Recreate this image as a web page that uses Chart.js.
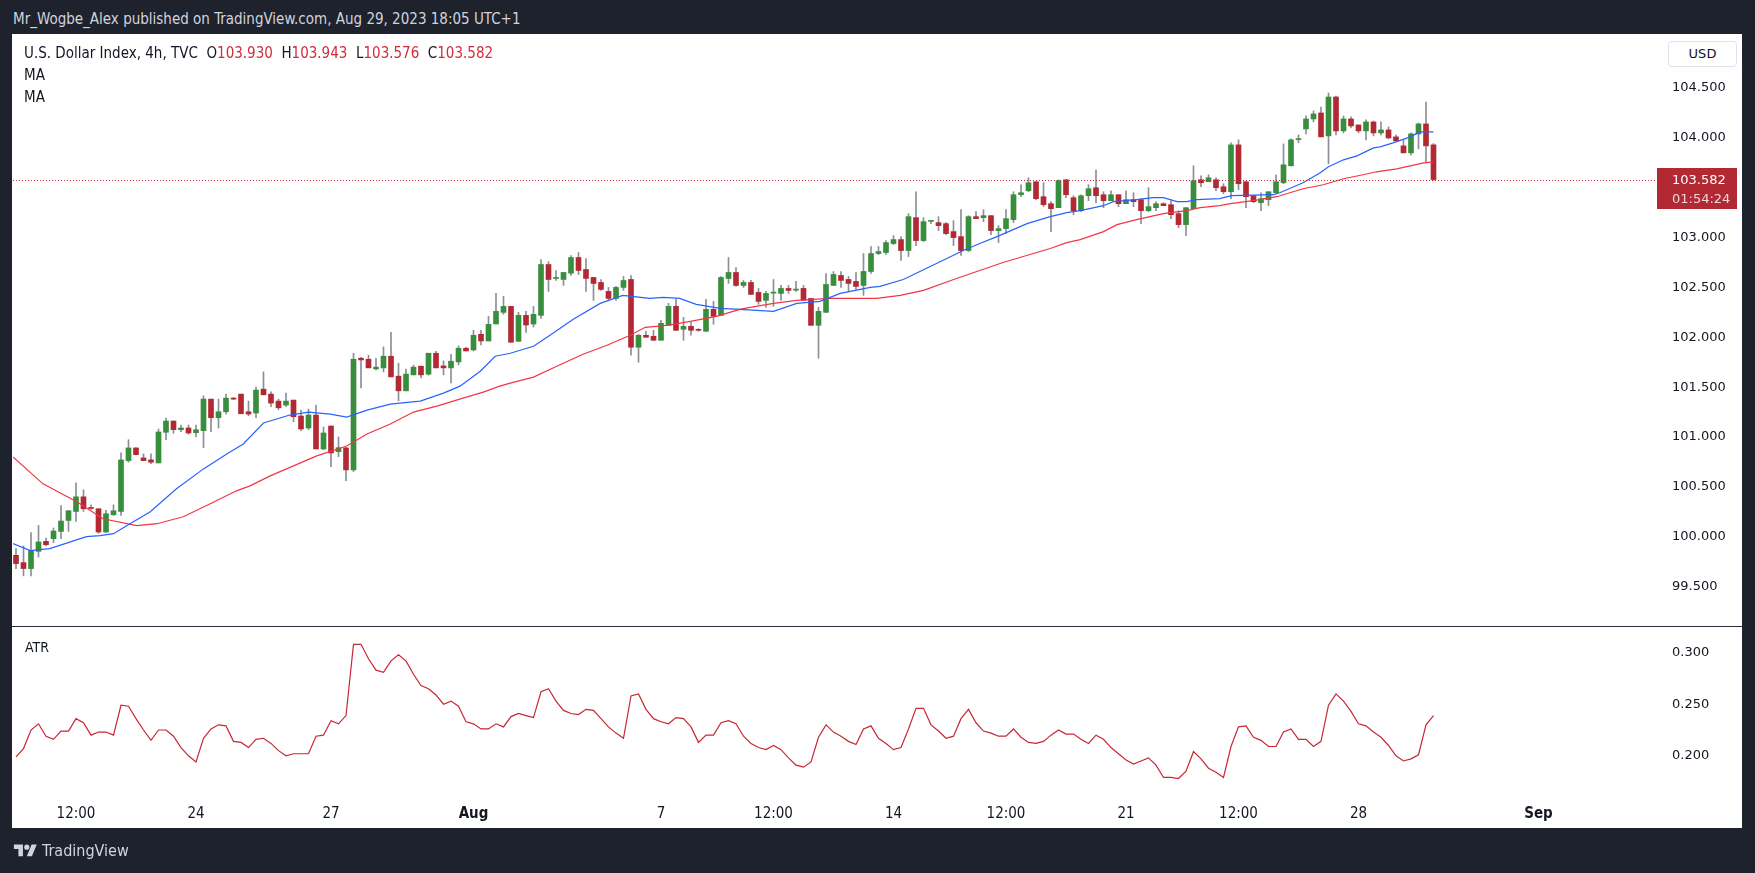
<!DOCTYPE html>
<html lang="en">
<head>
    <meta charset="UTF-8">
    <title>U.S. Dollar Index, 4h, TVC</title>
    <script src="https://cdn.jsdelivr.net/npm/chart.js"></script>
    <style>
        body {
            margin: 0;
            width: 1755px;
            height: 873px;
            background: #1e222d;
            overflow: hidden;
            position: relative;
            font-family: "Liberation Sans Narrow", "DejaVu Sans Condensed", sans-serif;
        }

        .published {
            position: absolute;
            left: 13px;
            top: 8px;
            font-size: 15px;
            line-height: 22px;
            color: #d1d4dc;
        }

        .frame {
            position: absolute;
            left: 12px;
            top: 34px;
            width: 1730px;
            height: 794px;
            background: #ffffff;
        }

        canvas { position: absolute; }
        #priceChart { left: 1px; top: 1px; }
        #atrChart { left: 1px; top: 594px; }

        .separator {
            position: absolute;
            left: 0;
            top: 592px;
            width: 1730px;
            height: 1px;
            background: #2a2e39;
        }

        .legend {
            position: absolute;
            left: 12px;
            top: 8px;
            font-size: 15px;
            line-height: 22px;
            color: #131722;
        }
        .legend .val { color: #cf2d3a; }

        .atr-title {
            position: absolute;
            left: 13px;
            top: 602px;
            font-size: 14px;
            line-height: 22px;
            color: #131722;
        }

        .currency {
            position: absolute;
            left: 1656px;
            top: 7px;
            width: 67px;
            height: 24px;
            border: 1px solid #e0e3eb;
            border-radius: 4px;
            font: 13px "DejaVu Sans", sans-serif;
            line-height: 24px;
            text-align: center;
            color: #131722;
            background: #fff;
        }

        .brand {
            position: absolute;
            left: 13px;
            top: 841px;
            display: flex;
            align-items: center;
            gap: 4px;
            color: #d1d4dc;
            font-size: 16px;
        }
    </style>
</head>
<body>
    <div class="published">Mr_Wogbe_Alex published on TradingView.com, Aug 29, 2023 18:05 UTC+1</div>

    <div class="frame">
        <canvas id="priceChart" width="1729" height="592"></canvas>
        <div class="separator"></div>
        <canvas id="atrChart" width="1729" height="200"></canvas>

        <div class="legend">
            U.S. Dollar Index, 4h, TVC&nbsp;&nbsp;O<span class="val">103.930</span>&nbsp;&nbsp;H<span class="val">103.943</span>&nbsp;&nbsp;L<span class="val">103.576</span>&nbsp;&nbsp;C<span class="val">103.582</span><br>
            MA<br>
            MA
        </div>
        <div class="atr-title">ATR</div>
        <div class="currency">USD</div>
    </div>

    <div class="brand">
        <svg width="25" height="18" viewBox="0 0 36 28"><path d="M14 22H7V11H0V4h14v18zM28 22h-8l7.5-18h8L28 22z" fill="#d1d4dc"/><circle cx="20" cy="8" r="4" fill="#d1d4dc"/></svg>
        <span>TradingView</span>
    </div>

    <script>
        // 4h candles, index 0 = Mon Jul 24 00:00 (UTC+1), 31 candles per week
        const firstIndex = -24;

        const opens = [
            99.813, 99.740, 99.680, 99.853, 99.953, 99.980, 100.053, 100.163, 100.253, 100.400,
            100.290, 100.280, 100.047, 100.220, 100.253, 100.763, 100.890, 100.790, 100.770, 100.740,
            101.047, 101.160, 101.073, 101.090, 101.043, 101.063, 101.380, 101.193, 101.253, 101.387,
            101.430, 101.253, 101.240, 101.480, 101.430, 101.360, 101.320, 101.370, 101.210, 101.090,
            101.220, 100.880, 101.110, 100.853, 100.890, 100.670, 101.790, 101.780, 101.683, 101.693,
            101.810, 101.610, 101.463, 101.623, 101.710, 101.630, 101.840, 101.713, 101.693, 101.753,
            101.890, 101.873, 102.030, 101.963, 102.133, 102.250, 102.310, 101.960, 102.220, 102.133,
            102.220, 102.730, 102.590, 102.580, 102.643, 102.800, 102.680, 102.600, 102.550, 102.460,
            102.390, 102.500, 102.580, 101.900, 102.020, 102.010, 101.970, 102.120, 102.310, 102.080,
            102.110, 102.080, 102.060, 102.280, 102.220, 102.590, 102.650, 102.520, 102.550, 102.450,
            102.370, 102.443, 102.440, 102.490, 102.473, 102.490, 102.390, 102.120, 102.250, 102.520,
            102.620, 102.580, 102.560, 102.520, 102.660, 102.840, 102.850, 102.940, 102.980, 102.870,
            103.200, 102.970, 103.163, 103.150, 103.140, 103.060, 103.010, 102.870, 103.210, 103.200,
            103.220, 103.070, 103.090, 103.180, 103.430, 103.470, 103.560, 103.410, 103.340, 103.300,
            103.580, 103.400, 103.270, 103.420, 103.500, 103.430, 103.370, 103.430, 103.340, 103.380,
            103.380, 103.270, 103.300, 103.340, 103.330, 103.240, 103.130, 103.290, 103.580, 103.560,
            103.580, 103.510, 103.460, 103.930, 103.560, 103.420, 103.350, 103.380, 103.450, 103.550,
            103.720, 103.983, 104.090, 104.190, 104.250, 104.020, 104.410, 104.070, 104.190, 104.130,
            104.070, 104.160, 104.050, 104.080, 104.010, 103.920, 103.850, 104.040, 104.140, 103.930
        ];
        const highs = [
            99.880, 99.907, 100.040, 100.113, 99.987, 100.087, 100.313, 100.260, 100.540, 100.470,
            100.320, 100.280, 100.263, 100.320, 100.840, 100.973, 100.893, 100.830, 100.830, 101.080,
            101.190, 101.160, 101.120, 101.120, 101.120, 101.413, 101.380, 101.380, 101.430, 101.397,
            101.430, 101.360, 101.500, 101.653, 101.453, 101.380, 101.440, 101.370, 101.270, 101.280,
            101.320, 101.100, 101.110, 101.000, 100.897, 101.840, 101.800, 101.820, 101.790, 101.903,
            102.050, 101.740, 101.680, 101.720, 101.710, 101.840, 101.860, 101.763, 101.830, 101.913,
            101.900, 102.070, 102.070, 102.210, 102.440, 102.410, 102.310, 102.250, 102.260, 102.310,
            102.780, 102.760, 102.670, 102.650, 102.820, 102.850, 102.790, 102.600, 102.580, 102.500,
            102.510, 102.610, 102.620, 102.030, 102.060, 102.070, 102.170, 102.340, 102.380, 102.200,
            102.150, 102.087, 102.380, 102.360, 102.610, 102.800, 102.700, 102.570, 102.570, 102.490,
            102.460, 102.580, 102.520, 102.520, 102.560, 102.520, 102.390, 102.300, 102.640, 102.660,
            102.660, 102.610, 102.650, 102.840, 102.910, 102.910, 102.970, 103.020, 103.010, 103.240,
            103.460, 103.200, 103.170, 103.210, 103.150, 103.170, 103.280, 103.220, 103.260, 103.280,
            103.220, 103.120, 103.280, 103.460, 103.530, 103.600, 103.560, 103.550, 103.360, 103.580,
            103.580, 103.420, 103.430, 103.530, 103.680, 103.460, 103.470, 103.430, 103.470, 103.450,
            103.390, 103.500, 103.360, 103.350, 103.370, 103.270, 103.300, 103.720, 103.620, 103.630,
            103.600, 103.540, 103.950, 103.980, 103.560, 103.420, 103.450, 103.460, 103.630, 103.940,
            103.990, 104.030, 104.220, 104.270, 104.310, 104.450, 104.420, 104.220, 104.210, 104.130,
            104.180, 104.170, 104.160, 104.110, 104.030, 103.980, 104.050, 104.150, 104.360, 103.943
        ];
        const lows = [
            99.680, 99.607, 99.607, 99.797, 99.907, 99.940, 99.980, 100.053, 100.153, 100.253,
            100.273, 100.033, 100.040, 100.213, 100.213, 100.747, 100.820, 100.763, 100.733, 100.740,
            100.973, 101.037, 101.053, 101.027, 101.000, 100.893, 101.053, 101.090, 101.230, 101.373,
            101.233, 101.213, 101.193, 101.423, 101.303, 101.273, 101.303, 101.153, 101.063, 101.073,
            100.880, 100.873, 100.703, 100.803, 100.563, 100.653, 101.493, 101.693, 101.673, 101.653,
            101.603, 101.363, 101.463, 101.623, 101.593, 101.620, 101.693, 101.623, 101.543, 101.723,
            101.863, 101.863, 101.923, 101.963, 102.133, 102.230, 101.950, 101.960, 102.050, 102.103,
            102.190, 102.460, 102.570, 102.520, 102.620, 102.630, 102.460, 102.370, 102.470, 102.370,
            102.370, 102.470, 101.820, 101.750, 102.000, 101.970, 101.970, 102.120, 102.070, 101.970,
            102.020, 102.060, 102.060, 102.130, 102.220, 102.540, 102.510, 102.500, 102.430, 102.330,
            102.300, 102.310, 102.370, 102.440, 102.460, 102.370, 102.120, 101.790, 102.250, 102.520,
            102.500, 102.460, 102.480, 102.420, 102.640, 102.830, 102.830, 102.930, 102.770, 102.810,
            102.920, 102.960, 103.140, 103.070, 103.030, 102.920, 102.820, 102.860, 103.190, 103.160,
            103.030, 102.950, 103.040, 103.150, 103.410, 103.460, 103.380, 103.310, 103.060, 103.300,
            103.400, 103.230, 103.260, 103.370, 103.350, 103.300, 103.370, 103.310, 103.340, 103.310,
            103.140, 103.260, 103.270, 103.320, 103.190, 103.100, 103.020, 103.290, 103.510, 103.560,
            103.470, 103.440, 103.390, 103.480, 103.300, 103.350, 103.270, 103.320, 103.440, 103.540,
            103.720, 103.950, 104.040, 104.160, 104.010, 103.740, 104.030, 104.050, 104.100, 104.050,
            103.980, 104.020, 104.030, 103.990, 103.970, 103.850, 103.830, 103.890, 103.760, 103.576
        ];
        const closes = [
            99.730, 99.680, 99.863, 99.947, 99.920, 100.057, 100.157, 100.260, 100.400, 100.280,
            100.283, 100.047, 100.230, 100.260, 100.770, 100.890, 100.823, 100.763, 100.747, 101.050,
            101.160, 101.073, 101.090, 101.040, 101.073, 101.380, 101.193, 101.253, 101.390, 101.380,
            101.233, 101.230, 101.470, 101.423, 101.340, 101.293, 101.360, 101.203, 101.080, 101.220,
            100.880, 101.040, 100.840, 100.893, 100.670, 101.780, 101.773, 101.693, 101.700, 101.810,
            101.603, 101.463, 101.630, 101.700, 101.623, 101.840, 101.693, 101.693, 101.760, 101.890,
            101.863, 102.020, 101.963, 102.130, 102.260, 102.310, 101.950, 102.220, 102.123, 102.230,
            102.730, 102.580, 102.600, 102.650, 102.800, 102.670, 102.590, 102.540, 102.480, 102.390,
            102.500, 102.570, 101.900, 102.020, 102.000, 101.970, 102.140, 102.310, 102.070, 102.110,
            102.070, 102.070, 102.280, 102.210, 102.600, 102.650, 102.520, 102.550, 102.430, 102.360,
            102.440, 102.450, 102.490, 102.470, 102.480, 102.370, 102.120, 102.260, 102.530, 102.630,
            102.570, 102.540, 102.510, 102.660, 102.840, 102.860, 102.950, 102.980, 102.870, 103.210,
            102.970, 103.160, 103.170, 103.120, 103.040, 103.000, 102.870, 103.210, 103.190, 103.220,
            103.070, 103.090, 103.190, 103.430, 103.450, 103.550, 103.390, 103.330, 103.290, 103.570,
            103.430, 103.270, 103.420, 103.490, 103.420, 103.370, 103.430, 103.340, 103.380, 103.360,
            103.270, 103.310, 103.340, 103.320, 103.230, 103.130, 103.300, 103.570, 103.550, 103.600,
            103.500, 103.460, 103.930, 103.540, 103.410, 103.360, 103.390, 103.460, 103.560, 103.730,
            103.980, 103.990, 104.190, 104.240, 104.010, 104.410, 104.070, 104.190, 104.120, 104.070,
            104.160, 104.050, 104.080, 104.000, 103.970, 103.850, 104.040, 104.140, 103.920, 103.582
        ];

        const maFastIdx = [-24.4, -22.1, -19.5, -14.6, -12.8, -11.0, -8.8, -6.1, -2.6, 1.0, 4.1, 6.3, 9.0, 12.5, 15.0, 17.9, 20.1, 22.8, 25.9, 28.5, 29.9, 33.0, 35.2, 37.9, 39.9, 41.9, 45.0, 47.2, 50.3, 53.9, 56.9, 60.5, 62.3, 64.5, 66.7, 69.9, 72.5, 77.0, 80.1, 83.2, 85.9, 89.9, 91.2, 94.3, 97.9, 102.3, 104.5, 106.8, 110.8, 113.9, 116.1, 117.9, 121.0, 122.3, 125.4, 127.6, 129.0, 130.8, 132.1, 133.4, 136.5, 138.1, 143.7, 144.5, 147.6, 149.9, 151.0, 153.0, 154.8, 157.0, 157.9, 159.6, 161.9, 163.2, 165.0];
        const maFastVal = [99.93, 99.86, 99.88, 100.00, 100.01, 100.03, 100.13, 100.25, 100.48, 100.68, 100.83, 100.93, 101.14, 101.22, 101.25, 101.23, 101.20, 101.27, 101.33, 101.35, 101.36, 101.44, 101.51, 101.66, 101.81, 101.84, 101.91, 102.02, 102.18, 102.34, 102.42, 102.39, 102.40, 102.39, 102.33, 102.29, 102.28, 102.26, 102.34, 102.36, 102.44, 102.50, 102.51, 102.58, 102.71, 102.87, 102.94, 103.01, 103.14, 103.21, 103.25, 103.27, 103.32, 103.36, 103.38, 103.40, 103.40, 103.36, 103.36, 103.38, 103.39, 103.42, 103.43, 103.45, 103.55, 103.65, 103.71, 103.78, 103.82, 103.90, 103.91, 103.95, 104.01, 104.06, 104.06];
        const maSlowIdx = [-24.4, -20.4, -15.9, -12.4, -7.9, -5.2, -1.7, 1.9, 5.4, 7.2, 9.9, 13.0, 16.1, 20.1, 22.8, 25.9, 29.0, 32.1, 35.6, 38.3, 40.5, 41.9, 45.0, 48.1, 51.6, 54.8, 57.9, 59.9, 62.8, 65.9, 69.4, 72.5, 73.9, 77.0, 80.1, 84.5, 90.8, 93.9, 97.0, 101.4, 104.5, 107.6, 113.9, 116.1, 117.9, 121.0, 122.8, 125.4, 129.0, 132.1, 133.9, 136.5, 137.9, 141.0, 144.1, 147.6, 150.3, 153.0, 155.6, 157.4, 160.1, 161.9, 163.7, 165.0];
        const maSlowVal = [100.80, 100.53, 100.35, 100.18, 100.11, 100.13, 100.20, 100.33, 100.46, 100.51, 100.61, 100.71, 100.81, 100.91, 101.03, 101.13, 101.25, 101.31, 101.39, 101.45, 101.51, 101.54, 101.60, 101.71, 101.83, 101.92, 102.02, 102.10, 102.12, 102.16, 102.21, 102.28, 102.30, 102.34, 102.37, 102.39, 102.39, 102.42, 102.47, 102.59, 102.67, 102.75, 102.89, 102.95, 102.98, 103.06, 103.13, 103.18, 103.24, 103.27, 103.30, 103.32, 103.34, 103.37, 103.41, 103.49, 103.53, 103.59, 103.63, 103.66, 103.69, 103.72, 103.75, 103.76];

        const atr = [
            0.199, 0.207, 0.225, 0.231, 0.219, 0.216, 0.224, 0.224, 0.236, 0.232,
            0.220, 0.223, 0.223, 0.220, 0.249, 0.248, 0.236, 0.225, 0.215, 0.225,
            0.225, 0.219, 0.208, 0.200, 0.194, 0.217, 0.226, 0.230, 0.229, 0.214,
            0.213, 0.208, 0.216, 0.217, 0.212, 0.205, 0.200, 0.202, 0.202, 0.202,
            0.219, 0.220, 0.234, 0.231, 0.239, 0.308, 0.308, 0.294, 0.283, 0.281,
            0.292, 0.298, 0.292, 0.279, 0.268, 0.265, 0.259, 0.250, 0.253, 0.248,
            0.233, 0.231, 0.226, 0.226, 0.231, 0.228, 0.238, 0.241, 0.239, 0.237,
            0.262, 0.265, 0.253, 0.244, 0.241, 0.240, 0.245, 0.244, 0.236, 0.228,
            0.222, 0.217, 0.258, 0.260, 0.245, 0.236, 0.233, 0.231, 0.237, 0.236,
            0.228, 0.213, 0.220, 0.220, 0.232, 0.234, 0.231,
            0.219, 0.212, 0.208, 0.206, 0.210, 0.206, 0.198, 0.191, 0.189, 0.194,
            0.218, 0.230, 0.223, 0.219, 0.214, 0.211, 0.226, 0.229, 0.217, 0.212,
            0.206, 0.208, 0.226, 0.246, 0.246, 0.230, 0.224, 0.217, 0.219, 0.236,
            0.245, 0.232, 0.224, 0.222, 0.219, 0.219, 0.226, 0.218, 0.213, 0.212,
            0.214, 0.220, 0.225, 0.221, 0.221, 0.216, 0.212, 0.220, 0.216, 0.208,
            0.202, 0.196, 0.192, 0.195, 0.198, 0.191, 0.179, 0.179, 0.178, 0.185,
            0.204, 0.197, 0.188, 0.184, 0.179, 0.209, 0.228, 0.229, 0.218, 0.215,
            0.209, 0.209, 0.223, 0.226, 0.216, 0.216, 0.209, 0.214, 0.249, 0.260,
            0.253, 0.243, 0.231, 0.229, 0.223, 0.218, 0.210, 0.200, 0.195, 0.197,
            0.201, 0.230, 0.239
        ];

        const timeTickIdx = [-16, 0, 18, 37, 62, 77, 93, 108, 124, 139, 155, 179];
        const timeTickText = ['12:00', '24', '27', 'Aug', '7', '12:00', '14', '12:00', '21', '12:00', '28', 'Sep'];
        const priceTicks = [99.5, 100, 100.5, 101, 101.5, 102, 102.5, 103, 103.5, 104, 104.5];
        const atrTicks = [0.2, 0.25, 0.3];

        const UP = '#388e3c';
        const DOWN = '#b22833';
        const WICK = '#8c8f98';
        const X_MIN = -24.4, X_MAX = 194.8;
        const AXIS_W = 85;
        const narrow = '"Liberation Sans Narrow", "DejaVu Sans Condensed", sans-serif';
        const axisFont = { family: '"DejaVu Sans", sans-serif', size: 13 };

        const idx = opens.map((_, k) => firstIndex + k);
        const bodies = idx.map((x, k) => ({ x, y: [opens[k], closes[k]] }));
        const wicks = idx.map((x, k) => ({ x, y: [lows[k], highs[k]] }));
        const bodyColors = closes.map((c, k) => (c >= opens[k] ? UP : DOWN));
        const lastClose = closes[closes.length - 1];

        function fixedY(scale) {
            scale.width = AXIS_W;
            scale.paddingTop = 0;
            scale.paddingBottom = 0;
        }

        const lastPricePlugin = {
            id: 'lastPrice',
            afterDraw(chart) {
                const { ctx, chartArea, scales } = chart;
                const y = Math.round(scales.y.getPixelForValue(lastClose)) + 0.5;
                ctx.save();
                ctx.strokeStyle = '#c62833';
                ctx.lineWidth = 1;
                ctx.setLineDash([1, 2]);
                ctx.beginPath();
                ctx.moveTo(chartArea.left, y);
                ctx.lineTo(chartArea.right, y);
                ctx.stroke();
                ctx.setLineDash([]);
                ctx.fillStyle = '#b22833';
                ctx.fillRect(chartArea.right, y - 12.5, 80, 41);
                ctx.font = '13px "DejaVu Sans", sans-serif';
                ctx.textBaseline = 'middle';
                ctx.textAlign = 'left';
                ctx.fillStyle = '#ffffff';
                ctx.fillText(lastClose.toFixed(3), chartArea.right + 15, y);
                ctx.fillStyle = '#f2d4d7';
                ctx.fillText('01:54:24', chartArea.right + 15, y + 19);
                ctx.restore();
            }
        };

        new Chart(document.getElementById('priceChart'), {
            type: 'bar',
            data: {
                datasets: [
                    {
                        type: 'line',
                        data: maFastIdx.map((x, k) => ({ x, y: maFastVal[k] })),
                        borderColor: '#2962ff',
                        borderWidth: 1.2,
                        pointRadius: 0,
                        order: 0
                    },
                    {
                        type: 'line',
                        data: maSlowIdx.map((x, k) => ({ x, y: maSlowVal[k] })),
                        borderColor: '#f23645',
                        borderWidth: 1.2,
                        pointRadius: 0,
                        order: 0
                    },
                    {
                        data: bodies,
                        backgroundColor: bodyColors,
                        barThickness: 5,
                        minBarLength: 1,
                        grouped: false,
                        order: 1
                    },
                    {
                        data: wicks,
                        backgroundColor: WICK,
                        barThickness: 1,
                        grouped: false,
                        order: 2
                    }
                ]
            },
            options: {
                responsive: false,
                animation: false,
                layout: { padding: 0 },
                plugins: { legend: { display: false }, tooltip: { enabled: false } },
                scales: {
                    x: { type: 'linear', min: X_MIN, max: X_MAX, display: false, offset: false },
                    y: {
                        position: 'right',
                        min: 99.094,
                        max: 105.032,
                        grid: { display: false, drawTicks: false },
                        border: { display: false },
                        afterFit: fixedY,
                        afterBuildTicks(s) { s.ticks = priceTicks.map(v => ({ value: v })); },
                        ticks: {
                            padding: 15,
                            color: '#131722',
                            font: axisFont,
                            callback: v => v.toFixed(3)
                        }
                    }
                }
            },
            plugins: [lastPricePlugin]
        });

        new Chart(document.getElementById('atrChart'), {
            type: 'line',
            data: {
                datasets: [{
                    data: idx.map((x, k) => ({ x, y: atr[k] })),
                    borderColor: '#c62833',
                    borderWidth: 1.2,
                    pointRadius: 0
                }]
            },
            options: {
                responsive: false,
                animation: false,
                layout: { padding: 0 },
                plugins: { legend: { display: false }, tooltip: { enabled: false } },
                scales: {
                    x: {
                        type: 'linear',
                        min: X_MIN,
                        max: X_MAX,
                        grid: { display: false, drawTicks: false },
                        border: { display: false },
                        afterFit(s) { s.height = 28; s.paddingLeft = 0; s.paddingRight = 0; },
                        afterBuildTicks(s) { s.ticks = timeTickIdx.map(v => ({ value: v })); },
                        ticks: {
                            autoSkip: false,
                            maxRotation: 0,
                            padding: 5,
                            color: '#131722',
                            font: ctx => ({
                                family: narrow,
                                size: 15,
                                weight: ['Aug', 'Sep'].includes(timeTickText[ctx.index]) ? 'bold' : 'normal'
                            }),
                            callback: (v, k) => timeTickText[k]
                        }
                    },
                    y: {
                        position: 'right',
                        min: 0.15717,
                        max: 0.32384,
                        grid: { display: false, drawTicks: false },
                        border: { display: false },
                        afterFit: fixedY,
                        afterBuildTicks(s) { s.ticks = atrTicks.map(v => ({ value: v })); },
                        ticks: {
                            padding: 15,
                            color: '#131722',
                            font: axisFont,
                            callback: v => v.toFixed(3)
                        }
                    }
                }
            }
        });
    </script>
</body>
</html>
